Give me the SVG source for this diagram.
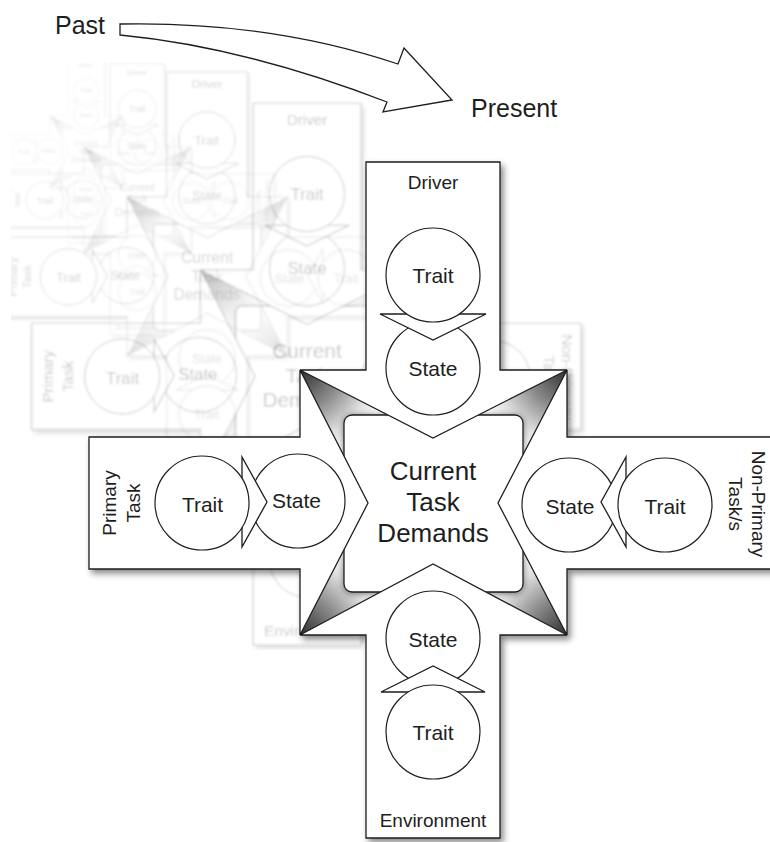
<svg xmlns="http://www.w3.org/2000/svg" xmlns:xlink="http://www.w3.org/1999/xlink" width="770" height="842" viewBox="0 0 770 842">
  <style>
    .shape { fill: #fff; stroke: #1e1e1e; stroke-width: 1.3; stroke-linejoin: miter; }
    .circ { fill: #fff; stroke: #1e1e1e; stroke-width: 1.2; }
    .lbl { font-family: "Liberation Sans", Arial, sans-serif; fill: #1e1e1e; text-anchor: middle; }
    .ts { font-size: 21px; }
    .arm { font-size: 19px; }
    .core { font-size: 26px; }
    .time { font-family: "Liberation Sans", Arial, sans-serif; fill: #1e1e1e; font-size: 25px; }
  </style>
  <defs>
    <filter id="crossShadow" x="-10%" y="-10%" width="130%" height="130%">
      <feDropShadow dx="3" dy="4" stdDeviation="3" flood-color="#000" flood-opacity="0.45"/>
    </filter>
    <filter id="boxShadow" x="-20%" y="-20%" width="140%" height="140%">
      <feDropShadow dx="0" dy="1" stdDeviation="3" flood-color="#000" flood-opacity="0.5"/>
    </filter>
    <filter id="soft" x="-5%" y="-5%" width="110%" height="110%">
      <feGaussianBlur stdDeviation="1"/>
    </filter>
    <radialGradient id="wedgeTL" gradientUnits="userSpaceOnUse" cx="300" cy="370" r="88">
      <stop offset="0" stop-color="#2e2e2e"/>
      <stop offset="0.45" stop-color="#8c8c8c"/>
      <stop offset="0.8" stop-color="#e0e0e0"/>
      <stop offset="1" stop-color="#fafafa"/>
    </radialGradient>
    <radialGradient id="wedgeTR" href="#wedgeTL" cx="567" cy="370"/>
    <radialGradient id="wedgeBL" href="#wedgeTL" cx="300" cy="635"/>
    <radialGradient id="wedgeBR" href="#wedgeTL" cx="567" cy="635"/>
    <clipPath id="historyClip">
      <rect x="11" y="62" width="760" height="780"/>
    </clipPath>
  </defs>

  <rect width="770" height="842" fill="#fff"/>

  <!-- earlier moments: the same model, shrinking and fading back in time -->
  <g id="history" clip-path="url(#historyClip)">
    <g opacity="0.13" filter="url(#soft)"><use href="#model" transform="matrix(0.27,0,0,0.27,-30.8,16)"/></g>
    <g opacity="0.18" filter="url(#soft)"><use href="#model" transform="matrix(0.4,0,0,0.4,-36,-1)"/></g>
    <g opacity="0.23" filter="url(#soft)"><use href="#model" transform="matrix(0.6,0,0,0.6,-52.8,-25)"/></g>
    <g opacity="0.3" filter="url(#soft)"><use href="#model" transform="matrix(0.8,0,0,0.8,-39.4,-26)"/></g>
  </g>

  <!-- time arrow -->
  <g id="timeline">
    <text class="time" x="55" y="34">Past</text>
    <path class="shape" d="M120,24 Q270,21 398,64 L404,48 L452,100 L383,112 L387,102 Q245,47 120,35 Z"/>
    <text class="time" x="471" y="117" font-size="26">Present</text>
  </g>

  <!-- present moment -->
  <g id="model">
    <g filter="url(#crossShadow)">
      <!-- shaded wedges between the arrow heads -->
      <g id="wedges" stroke="none">
        <polygon points="300,370 433,438 368,503" fill="url(#wedgeTL)"/>
        <polygon points="567,370 433,438 498,503" fill="url(#wedgeTR)"/>
        <polygon points="300,635 368,503 433,564" fill="url(#wedgeBL)"/>
        <polygon points="567,635 498,503 433,564" fill="url(#wedgeBR)"/>
      </g>

      <g id="demands">
        <rect class="shape" x="344" y="415" width="179" height="177" rx="8" filter="url(#boxShadow)"/>
      </g>

      <g id="arrows">
        <polygon id="arrow-driver" class="shape" points="366,162 500,162 500,370 567,370 433,438 300,370 366,370"/>
        <polygon id="arrow-primary" class="shape" points="89,437 300,437 300,370 368,503 300,635 300,569 89,569"/>
        <polygon id="arrow-nonprimary" class="shape" points="775,437 567,437 567,370 498,503 567,635 567,569 775,569"/>
        <polygon id="arrow-environment" class="shape" points="366,838 500,838 500,635 567,635 433,564 300,635 366,635"/>
      </g>
    </g>

    <g id="driver">
      <text class="lbl arm" x="433" y="189">Driver</text>
      <circle class="circ" cx="433" cy="368" r="47"/>
      <polygon class="shape" points="380,314 486,314 433,340"/>
      <circle class="circ" cx="433" cy="275" r="47"/>
      <text class="lbl ts" x="433" y="282.5">Trait</text>
      <text class="lbl ts" x="433" y="375.5">State</text>
    </g>

    <g id="primary-task">
      <text class="lbl arm" transform="translate(115.5,503) rotate(-90)">Primary</text>
      <text class="lbl arm" transform="translate(140,503) rotate(-90)">Task</text>
      <circle class="circ" cx="298" cy="501" r="47"/>
      <polygon class="shape" points="242,457 242,547 267,502"/>
      <circle class="circ" cx="202" cy="503" r="47"/>
      <text class="lbl ts" x="202.5" y="512">Trait</text>
      <text class="lbl ts" x="296.5" y="508">State</text>
    </g>

    <g id="non-primary-task">
      <text class="lbl arm" transform="translate(752,504) rotate(90)">Non-Primary</text>
      <text class="lbl arm" transform="translate(729,504) rotate(90)">Task/s</text>
      <circle class="circ" cx="569" cy="505" r="47"/>
      <polygon class="shape" points="626,457 626,547 601,502"/>
      <circle class="circ" cx="665" cy="505" r="47"/>
      <text class="lbl ts" x="665" y="513.5">Trait</text>
      <text class="lbl ts" x="570" y="513.5">State</text>
    </g>

    <g id="environment">
      <text class="lbl arm" x="433" y="827">Environment</text>
      <circle class="circ" cx="433" cy="638" r="47"/>
      <polygon class="shape" points="381,692 485,692 433,666"/>
      <circle class="circ" cx="433" cy="732" r="47"/>
      <text class="lbl ts" x="433" y="647">State</text>
      <text class="lbl ts" x="433" y="740">Trait</text>
    </g>

    <g id="current-task-demands">
      <text class="lbl core" x="433" y="480">Current</text>
      <text class="lbl core" x="433" y="511">Task</text>
      <text class="lbl core" x="433" y="541.5">Demands</text>
    </g>
  </g>
</svg>
